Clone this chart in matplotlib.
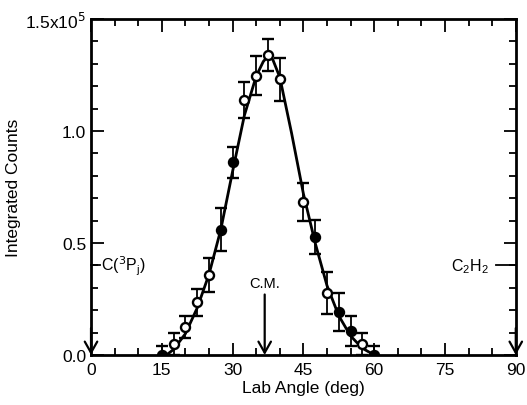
import matplotlib
matplotlib.use('Agg')
import matplotlib.pyplot as plt
from matplotlib.ticker import MultipleLocator
import numpy as np

plt.rcParams['font.family'] = ['Liberation Sans', 'DejaVu Sans']

# measured points (lab angle in deg, integrated counts)
open_angle = [17.5, 20.0, 22.5, 25.0, 32.5, 35.0, 37.5, 40.0, 45.0, 50.0, 57.5]
open_counts = [5000, 12500, 23500, 35700, 113800, 124600, 134000, 123000, 68300, 27700, 4900]
open_err = [5000, 5000, 6000, 7500, 8000, 8700, 7000, 9500, 8500, 9500, 5000]

filled_angle = [15.0, 27.5, 30.0, 47.5, 52.5, 55.0, 60.0]
filled_counts = [0, 56000, 86000, 52700, 19200, 10700, 0]
filled_err = [4000, 9700, 7000, 7600, 8500, 6700, 4000]

# fitted curve
fit_angle = [16.0, 17.5, 20.0, 22.5, 25.0, 27.5, 30.0, 32.5, 35.0, 36.5, 37.5,
             38.5, 40.0, 42.5, 45.0, 47.5, 50.0, 52.5, 55.0, 57.5, 60.0]
fit_counts = [0, 2500, 9500, 21000, 36000, 56000, 82000, 107000, 124500, 131000, 133500,
              132000, 124000, 99000, 72000, 50000, 31000, 17500, 8500, 3000, 0]

cm_angle = 36.8

fig = plt.figure(figsize=(5.27, 4.06), dpi=100)
ax = fig.add_axes([0.1727, 0.1232, 0.806, 0.8275])

ax.plot(fit_angle, fit_counts, color='black', lw=2.0, zorder=2)
ax.errorbar(open_angle, open_counts, yerr=open_err, fmt='o', mfc='white', mec='black',
            ms=6.5, mew=1.7, ecolor='black', elinewidth=1.3, capsize=4.5, capthick=1.4, zorder=3)
ax.errorbar(filled_angle, filled_counts, yerr=filled_err, fmt='o', mfc='black', mec='black',
            ms=6.5, mew=1.7, ecolor='black', elinewidth=1.3, capsize=4.5, capthick=1.4, zorder=3)

ax.set_xlim(0, 90)
ax.set_ylim(0, 150000)
ax.set_xticks([0, 15, 30, 45, 60, 75, 90])
ax.set_yticks([0, 50000, 100000, 150000])
ax.set_yticklabels(['0.0', '0.5', '1.0', '1.5x10$^5$'])
ax.xaxis.set_minor_locator(MultipleLocator(5))
ax.yaxis.set_minor_locator(MultipleLocator(10000))
ax.tick_params(which='both', direction='in', top=True, right=True, width=1.3, labelsize=12.5)
ax.tick_params(which='major', length=9)
ax.tick_params(which='minor', length=5)
ax.tick_params(axis='x', pad=5)
for s in ax.spines.values():
    s.set_linewidth(2)

ax.set_xlabel('Lab Angle (deg)', fontsize=12.5, labelpad=2.5)
ax.set_ylabel('Integrated Counts', fontsize=12.5, labelpad=3)

# arrows at 0, C.M. and 90 deg
arrow = dict(arrowstyle='->,head_length=0.8,head_width=0.45', color='black', lw=1.6,
             shrinkA=0, shrinkB=0)
ax.annotate('', xy=(0, 0), xytext=(0, 12000), arrowprops=arrow, annotation_clip=False)
ax.annotate('', xy=(90, 0), xytext=(90, 12000), arrowprops=arrow, annotation_clip=False)
ax.annotate('', xy=(cm_angle, 0), xytext=(cm_angle, 27000), arrowprops=arrow)
ax.text(cm_angle, 29000, 'C.M.', ha='center', va='bottom', fontsize=10.5)

# beam markers on the side axes
ax.plot([0, 2.0], [40000, 40000], color='black', lw=1.3, clip_on=False)
ax.text(2.2, 40000, 'C($^3$P$_\\mathregular{j}$)', ha='left', va='center', fontsize=11.5)
ax.plot([85.8, 90], [40000, 40000], color='black', lw=1.3, clip_on=False)
ax.text(84.3, 40000, 'C$_\\mathregular{2}$H$_\\mathregular{2}$', ha='right', va='center', fontsize=11.5)

fig.savefig('out.png', dpi=100)
